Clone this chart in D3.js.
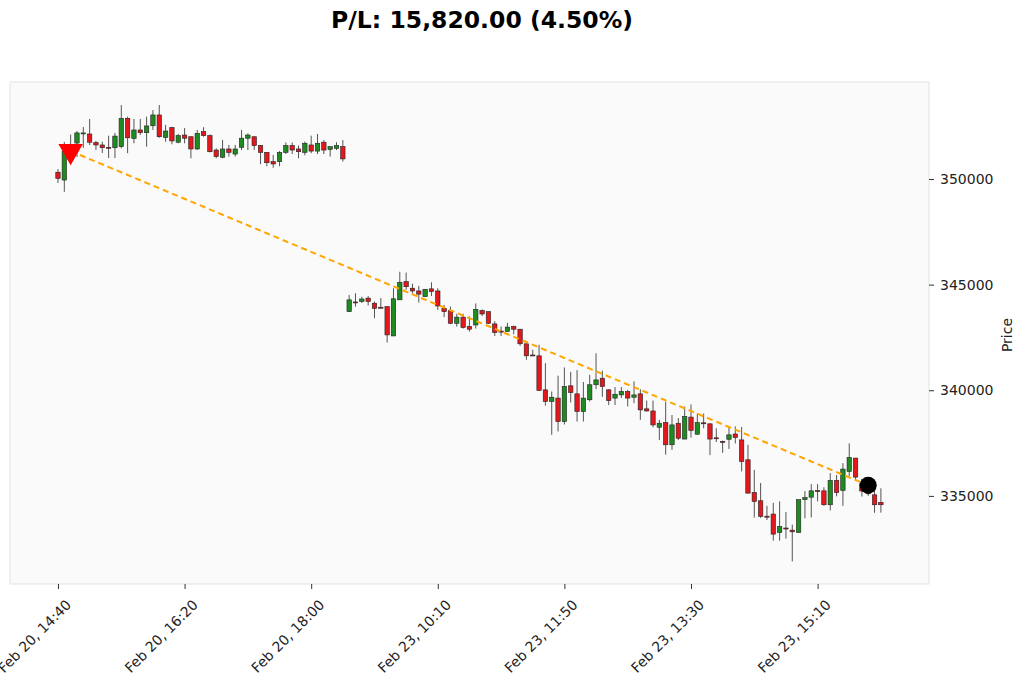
<!DOCTYPE html>
<html><head><meta charset="utf-8">
<script src="https://cdn.jsdelivr.net/npm/d3@7"></script>
<style>body{margin:0;background:#fff;font-family:"DejaVu Sans",sans-serif}</style>
</head><body><svg id="c" width="1024" height="685"></svg>
<script>
const opens=[350320,349950,351050,351700,352150,352130,351720,351610,351500,351480,351530,352870,351920,352320,352190,352520,353030,351970,352430,351740,352080,352000,351420,352240,352050,351370,351030,351420,351180,351500,351930,352000,351580,351260,350820,350820,351260,351580,351420,351260,351610,351320,351740,351400,351450,351530,
343720,344180,344200,344360,344120,343930,343960,342570,344280,345140,344830,344700,344430,344800,344700,343880,343770,343170,343460,343020,343090,343770,343720,343140,342800,342780,343020,342890,342200,341670,341630,340020,339470,339630,338520,340210,339830,338990,339550,340260,340570,340020,339630,339780,339940,339670,339830,339120,339020,338250,338470,337420,338440,337690,338730,337920,338460,338410,337750,337580,337680,337930,337650,336710,335160,334770,334040,334140,333270,333480,333380,333270,334820,334940,335250,335240,334580,335730,335260,336160,336790,335580,335310,335050,334690];
const highs=[350470,351750,352100,352270,352460,352840,351800,351760,352050,352180,353500,352950,352840,352840,352950,353260,353500,352560,352470,352130,352410,352000,352320,352450,352110,351450,351850,351610,351610,352320,352160,352000,351610,351260,351140,351320,351730,351730,351580,351770,352050,352130,351840,351530,351740,351840,
344510,344590,344430,344460,344200,344360,343960,344830,345610,345570,345040,344940,344780,345110,344830,344040,343960,343620,343620,343490,344110,343830,343720,343270,343020,343190,343060,342890,342200,341920,342150,341280,339940,340690,341080,340870,340950,340390,340730,341750,340930,340050,340150,340150,340020,340420,340050,339510,339510,338600,339460,338830,338680,339230,339330,338900,338900,338440,338200,337620,338280,338290,338260,337420,336230,335610,334530,334670,334740,334240,333640,334820,335230,335560,335560,335410,336080,335990,336550,337490,336790,335800,335500,335360,335360];
const lows=[349810,349390,350800,351040,351470,351610,351370,351230,350990,350990,351450,351220,351690,352080,351530,352320,351950,351760,351640,351690,351690,350980,351370,352000,351260,350980,350980,351060,351060,351370,351370,351370,350700,350600,350530,350600,351180,351180,350980,351120,351220,351180,351180,351060,351370,350820,
343720,343960,344130,344010,343410,343880,342260,342570,344280,344750,344570,344150,344430,344460,343800,343460,343130,343010,342920,342780,342920,343510,343130,342570,342570,342780,342650,342100,341440,341630,339990,339270,337890,338050,338380,339420,338520,338520,339470,340050,339690,339300,339300,339630,339230,339390,338600,338990,338250,337650,336950,337180,337650,337690,337760,337890,338200,336930,337550,337040,337220,337480,336160,335130,333970,333960,333860,332880,332880,332980,331900,333270,333940,333980,334740,334530,334310,334980,334530,335930,335730,334970,335000,334200,334210];
const closes=[350030,351320,351300,352180,352180,351740,351610,351480,351480,352030,352870,351950,352320,352190,352510,353030,352000,352270,351800,352050,351930,351420,352160,352050,351290,351060,351420,351260,351420,351930,352080,351580,351260,350770,350710,351250,351580,351370,351290,351690,351320,351690,351370,351530,351580,350950,
344280,344170,344320,344200,343880,343910,342620,344330,345110,344900,344700,344550,344780,344670,343990,343720,343170,343460,342970,342890,343830,343610,343170,342730,342780,342990,342890,342200,341630,341650,339990,339470,339670,338520,340180,339890,338990,339630,340260,340490,340180,339510,339810,339940,339630,339780,339070,339020,338360,338440,337420,338360,337730,338760,338100,338470,338440,337690,337730,337560,337890,337760,336630,335130,334740,334030,334020,333190,333550,333470,333300,334820,334920,335240,335230,334580,335730,335160,336270,336820,335890,335230,335100,334580,334580];
const tickIndex=[0,20,40,60,80,100,120];
const tickLabels=["Feb 20, 14:40","Feb 20, 16:20","Feb 20, 18:00","Feb 23, 10:10","Feb 23, 11:50","Feb 23, 13:30","Feb 23, 15:10"];
const yTicks=[335000,340000,345000,350000];
const entry={i:2,price:351320}, exit={i:128,price:335500};
const title="P/L: 15,820.00 (4.50%)";

const svg=d3.select("#c");
const L=10,R=929,T=82,B=584;
const x=d3.scaleLinear().domain([-7.58,137.6]).range([L,R]);
const y=d3.scaleLinear().domain([330830,354590]).range([B,T]);
svg.append("rect").attr("x",L).attr("y",T).attr("width",R-L).attr("height",B-T).attr("fill","#fafafa").attr("stroke","#e3e3e3");
svg.append("text").attr("x",482).attr("y",28).attr("text-anchor","middle").attr("font-size",23.5).attr("font-weight","bold").text(title);
const yAx=svg.append("g").attr("transform",`translate(${R},0)`).call(d3.axisRight(y).tickValues(yTicks).tickFormat(d3.format("d")).tickSize(5).tickPadding(6));
const xAx=svg.append("g").attr("transform",`translate(0,${B})`).call(d3.axisBottom(x).tickValues(tickIndex).tickFormat((d,i)=>tickLabels[i]).tickSize(5));
[yAx,xAx].forEach(a=>{a.select(".domain").remove();a.selectAll("line").attr("stroke","#333");a.selectAll("text").attr("font-size",14).attr("fill","#222").attr("font-family","DejaVu Sans");});
xAx.selectAll("text").attr("text-anchor","end").attr("dx","0em").attr("dy","0em").attr("transform","translate(8,16) rotate(-45)");
svg.append("text").attr("transform","translate(1012,335) rotate(-90)").attr("text-anchor","middle").attr("font-size",14).attr("fill","#222").text("Price");
const g=svg.append("g");
opens.forEach((o,i)=>{
  const c=closes[i],up=c>=o,cx=x(i);
  g.append("line").attr("x1",cx).attr("x2",cx).attr("y1",y(highs[i])).attr("y2",y(lows[i])).attr("stroke","#555").attr("stroke-width",1);
  const t=y(Math.max(o,c)),b=y(Math.min(o,c));
  g.append("rect").attr("x",cx-2.2).attr("width",4.4).attr("y",t).attr("height",Math.max(1,b-t)).attr("fill",up?"#1f8a1f":"#e3171c").attr("stroke","#222").attr("stroke-width",0.6);
});
svg.append("line").attr("x1",x(entry.i)).attr("y1",y(entry.price)).attr("x2",x(exit.i)).attr("y2",y(exit.price)).attr("stroke","orange").attr("stroke-width",2).attr("stroke-dasharray","6,4");
svg.append("path").attr("d",d3.symbol(d3.symbolTriangle,260)()).attr("transform",`translate(${x(entry.i)},${y(entry.price)}) rotate(180)`).attr("fill","red");
svg.append("circle").attr("cx",x(exit.i)).attr("cy",y(exit.price)).attr("r",8.5).attr("fill","black");
</script></body></html>
